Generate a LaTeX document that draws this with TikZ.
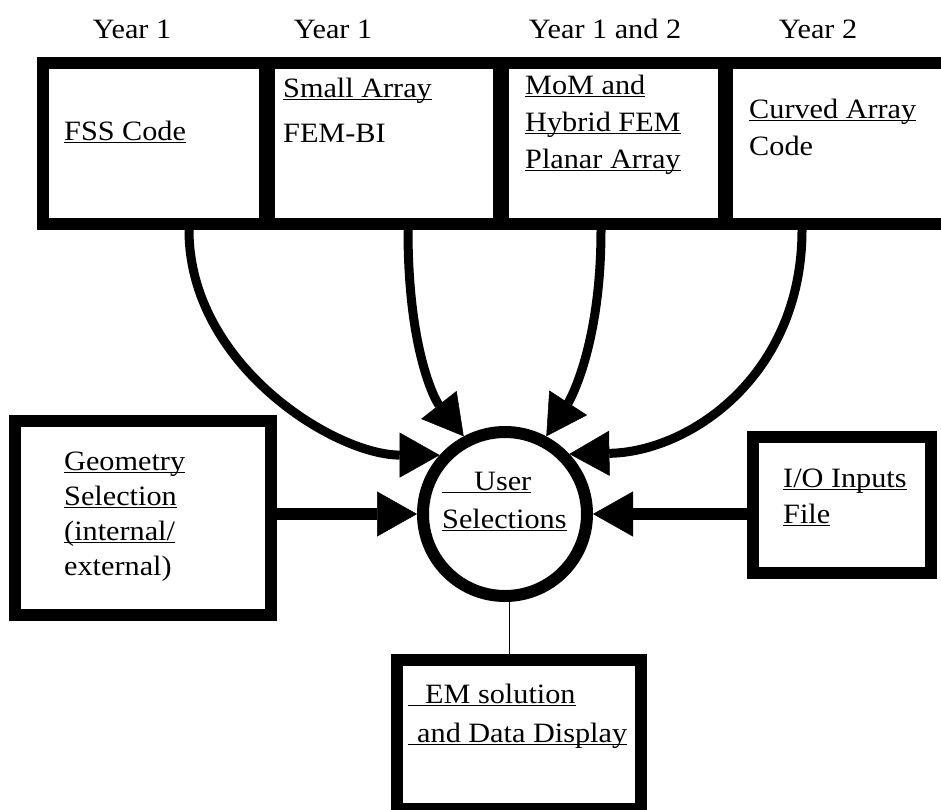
\documentclass[tikz,border=0pt]{standalone}
\usepackage{fontspec}
\setmainfont{Liberation Serif}[FakeStretch=1.08]
\usetikzlibrary{arrows.meta}
\newbox\myulbox
\newcommand{\myul}[2][0pt]{\setbox\myulbox\hbox{\hspace*{#1}#2}\rlap{\rule[-3pt]{\wd\myulbox}{1.4pt}}\box\myulbox}
\newcommand{\mylines}[2]{\vtop{\baselineskip=#1\relax #2}}
\begin{document}
\begin{tikzpicture}[x=1pt,y=-1pt,
 bx/.style={draw,line width=12pt,inner sep=0pt},
 txt/.style={font=\fontsize{28}{37}\selectfont,inner sep=0pt,anchor=base west},
 yr/.style={font=\fontsize{28}{37}\selectfont,inner sep=0pt,anchor=base},
 arr/.style={line width=9pt,-{Triangle[length=40pt,width=45pt,line width=0.5pt]}},
 harr/.style={line width=12pt,-{Triangle[length=40pt,width=45pt,line width=0.5pt]}}]
\useasboundingbox (0,0) rectangle (941,809);
\clip (0,0) rectangle (941,809);
\fill[white] (0,0) rectangle (941,809);

\node[yr] (y1) at (132,38) {Year 1};
\node[yr] (y2) at (333,38) {Year 1};
\node[yr] (y3) at (605,38) {Year 1 and 2};
\node[yr] (y4) at (818,38) {Year 2};

\node[bx,minimum width=226pt,minimum height=161pt] (b1) at (156,143.5) {};
\node[bx,minimum width=238pt,minimum height=161pt] (b2) at (384,143.5) {};
\node[bx,minimum width=228pt,minimum height=161pt] (b3) at (613,143.5) {};
\node[bx,minimum width=226pt,minimum height=161pt] (b4) at (837,143.5) {};

\node[txt] (t1) at (64,140) {\myul{FSS Code}};
\node[txt] (t2) at (283,97) {\mylines{45pt}{\hbox{\myul{Small Array}}\hbox{FEM-BI}}};
\node[txt] (t3) at (525,94) {\mylines{37pt}{\hbox{\myul{MoM and}}\hbox{\myul{Hybrid FEM}}\hbox{\myul{Planar Array}}}};
\node[txt] (t4) at (749,118) {\mylines{37pt}{\hbox{\myul{Curved Array}}\hbox{Code}}};

\node[draw,circle,line width=12pt,minimum size=164pt,inner sep=0pt] (us) at (505,514) {};
\node[txt] (ut) at (442,490) {\mylines{38pt}{\hbox{\myul[32pt]{User}}\hbox{\myul{Selections}}}};

\node[bx,minimum width=255.5pt,minimum height=194pt] (geo) at (142.75,518) {};
\node[txt] (gt) at (64,470) {\mylines{35pt}{\hbox{\myul{Geometry}}\hbox{\myul{Selection}}\hbox{\myul{(internal/}}\hbox{external)}}};

\node[bx,minimum width=178.5pt,minimum height=136pt] (io) at (842,504.5) {};
\node[txt] (it) at (783,487) {\mylines{36pt}{\hbox{\myul{I/O Inputs}}\hbox{\myul{File}}}};

\node[bx,minimum width=244pt,minimum height=149pt] (bb) at (518.5,734.5) {};
\node[txt] (bt) at (408,703) {\mylines{39pt}{\hbox{\myul[17pt]{EM solution}}\hbox{\myul[9pt]{and Data Display}}}};

\coordinate (s1) at (189,0);
\coordinate (s2) at (408,0);
\coordinate (s3) at (601,0);
\coordinate (s4) at (802,0);
\draw[arr] (b1.south -| s1) .. controls (189,365) and (335,455) .. (us.138);
\draw[arr] (b2.south -| s2) .. controls (408,350) and (435,400) .. (us.118);
\draw[arr] (b3.south -| s3) .. controls (601,345) and (570,400) .. (us.62);
\draw[arr] (b4.south -| s4) .. controls (802,375) and (690,452) .. (us.43);

\draw[harr] (geo.east |- us.west) -- (us.west);
\draw[harr] (io.west |- us.east) -- (us.east);
\draw[line width=1.5pt] (us.-87) -- (us.-87 |- bb.north);
\end{tikzpicture}
\end{document}
